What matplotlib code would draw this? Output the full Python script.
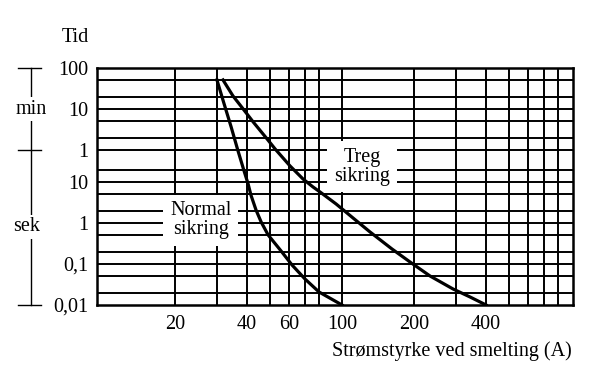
import matplotlib.pyplot as plt
from matplotlib.ticker import FixedLocator, NullLocator

# current in A, melting time in seconds
normal_a = [30.0, 32.1, 34.4, 36.7, 38.9, 40.5, 41.6, 43.7, 45.9, 49.1, 55.6, 61.8, 70.0, 80.1, 100]
normal_t = [3070, 822, 219, 58.7, 19.0, 8.94, 4.82, 2.07, 1.06, 0.51, 0.208, 0.0945, 0.0431, 0.0208, 0.01]

treg_a = [31.8, 35.0, 38.6, 42.5, 48.6, 52.5, 60.6, 68.7, 75.6, 80.9, 94.4, 111.2, 130.9,
          161.7, 192.3, 233.1, 290.9, 342.6, 400]
treg_t = [3070, 1252, 603, 291, 112, 63.8, 24.6, 11.8, 7.55, 5.70, 2.91, 1.32, 0.603,
          0.232, 0.112, 0.051, 0.0246, 0.0157, 0.01]

x_grid = [20, 30, 40, 50, 60, 70, 80, 100, 200, 300, 400, 500, 600, 700, 800]
x_labeled = [20, 40, 60, 100, 200, 400]

y_grid = [0.02, 0.05, 0.1, 0.2, 0.5, 1, 2, 5, 10, 20, 60, 120, 300, 600, 1200, 3000]
y_labeled = {6000: '100', 600: '10', 60: '1', 10: '10', 1: '1', 0.1: '0,1', 0.01: '0,01'}

plt.rcParams['font.family'] = ['Liberation Serif', 'DejaVu Serif']
fs = 14.5

fig = plt.figure(figsize=(6.08, 3.72), dpi=100)
ax = fig.add_axes([97/608, 1 - 305/372, 476/608, 237/372])
ax.set_xscale('log')
ax.set_yscale('log')
ax.set_xlim(9.46, 923)
ax.set_ylim(0.01, 6000)

for xv in x_grid:
    ax.axvline(xv, color='black', lw=1.4, zorder=1)
for yv in y_grid:
    ax.axhline(yv, color='black', lw=1.4, zorder=1)

ax.plot(normal_a, normal_t, color='black', lw=2.3, zorder=2)
ax.plot(treg_a, treg_t, color='black', lw=2.3, zorder=2)

box = dict(facecolor='white', edgecolor='none', pad=5)
ax.text(25.7, 1.18, 'Normal\nsikring', ha='center', va='center', fontsize=fs,
        linespacing=0.95, bbox=box, zorder=3)
ax.text(121.2, 23.3, 'Treg\nsikring', ha='center', va='center', fontsize=fs,
        linespacing=0.95, bbox=box, zorder=3)

ax.xaxis.set_major_locator(FixedLocator(x_labeled))
ax.xaxis.set_major_formatter(plt.FixedFormatter([str(v) for v in x_labeled]))
ax.xaxis.set_minor_locator(NullLocator())
ax.yaxis.set_major_locator(FixedLocator(list(y_labeled.keys())))
ax.yaxis.set_major_formatter(plt.FixedFormatter(list(y_labeled.values())))
ax.yaxis.set_minor_locator(NullLocator())
ax.tick_params(axis='both', length=0, labelsize=fs)
ax.tick_params(axis='x', pad=7)
ax.tick_params(axis='y', pad=6)
for sp in ax.spines.values():
    sp.set_linewidth(1.8)

# min / sek bracket on the left
tr = ax.get_yaxis_transform()
bx = -0.139
ax.plot([bx, bx], [0.01, 6000], transform=tr, color='black', lw=1, clip_on=False)
for yv in [6000, 60, 0.01]:
    ax.plot([bx - 0.027, bx + 0.022], [yv, yv], transform=tr, color='black', lw=1, clip_on=False)
wbox = dict(facecolor='white', edgecolor='none', pad=2)
ax.text(bx, 600, 'min', transform=tr, ha='center', va='center', fontsize=fs, bbox=wbox, clip_on=False)
ax.text(bx - 0.008, 0.8, 'sek', transform=tr, ha='center', va='center', fontsize=fs, bbox=wbox, clip_on=False)

fig.text(75/608, 1 - 38/372, 'Tid', ha='center', va='center', fontsize=fs)
fig.text(572/608, 1 - 351/372, 'Strømstyrke ved smelting (A)', ha='right', va='center', fontsize=fs)

fig.savefig('out.png', dpi=100)
